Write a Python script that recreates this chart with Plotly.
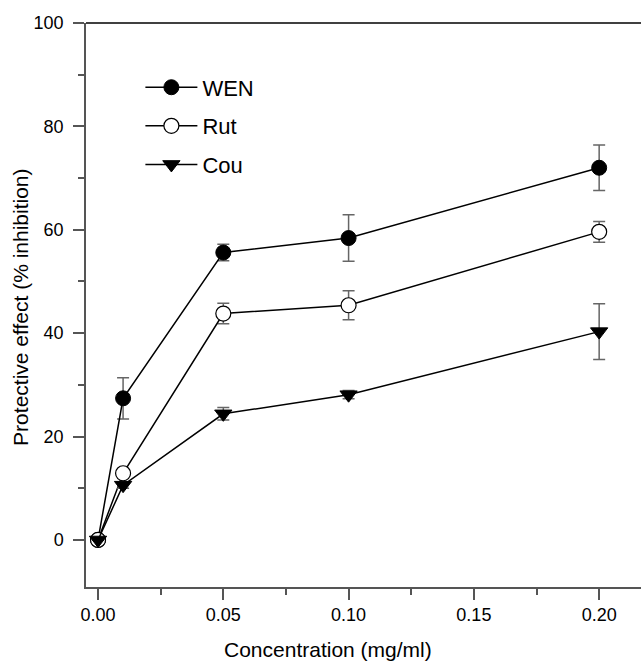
import plotly.graph_objects as go

conc = [0.0, 0.01, 0.05, 0.10, 0.20]
wen = [0.0, 27.4, 55.6, 58.4, 72.0]
wen_err = [0.0, 4.0, 1.6, 4.5, 4.4]
rut = [0.0, 12.9, 43.8, 45.4, 59.6]
rut_err = [0.0, 0.8, 2.0, 2.8, 2.0]
cou = [0.0, 10.6, 24.4, 28.1, 40.3]
cou_err = [0.0, 0.6, 1.2, 0.8, 5.4]

x_ticks = [0.0, 0.05, 0.10, 0.15, 0.20]
x_ticklabels = ["0.00", "0.05", "0.10", "0.15", "0.20"]
y_ticks = [0, 20, 40, 60, 80, 100]

FONT = "Liberation Sans, Arial, Helvetica, sans-serif"
AXC = "#555555"
ERRC = "#666666"

def err(vals):
    return dict(type="data", array=vals, visible=True, color=ERRC, thickness=1.5, width=6)

fig = go.Figure()
fig.add_trace(go.Scatter(
    x=conc, y=wen, name="WEN", mode="lines+markers", legendgroup="a",
    line=dict(color="black", width=1.5),
    marker=dict(symbol="circle", size=15, color="black", line=dict(color="black", width=1)),
    error_y=err(wen_err)))
fig.add_trace(go.Scatter(
    x=conc, y=rut, name="Rut", mode="lines+markers", legendgroup="b",
    line=dict(color="black", width=1.5),
    marker=dict(symbol="circle", size=15, color="white", line=dict(color="black", width=1.2)),
    error_y=err(rut_err)))
fig.add_trace(go.Scatter(
    x=conc, y=cou, name="Cou", mode="lines+markers", legendgroup="c",
    line=dict(color="black", width=1.5),
    marker=dict(symbol="triangle-down", size=15, color="black", line=dict(color="black", width=1)),
    error_y=err(cou_err)))

fig.update_layout(
    width=641, height=662,
    margin=dict(l=86, r=0, t=23, b=75),
    paper_bgcolor="white", plot_bgcolor="white",
    font=dict(family=FONT, size=18, color="black"),
    showlegend=True,
    legend=dict(x=0.098, y=0.923, xanchor="left", yanchor="top",
                font=dict(size=22, family=FONT, color="black"),
                bgcolor="rgba(0,0,0,0)", tracegroupgap=7, itemwidth=52),
    xaxis=dict(range=[-0.0048, 0.2167], tickmode="array", tickvals=x_ticks, ticktext=x_ticklabels,
               showgrid=False, zeroline=False, showline=True, linecolor=AXC, linewidth=1.5,
               ticks="outside", ticklen=11, tickwidth=1.5, tickcolor=AXC,
               minor=dict(dtick=0.025, tick0=0, ticks="outside", ticklen=6, tickwidth=1.5, tickcolor=AXC),
               tickfont=dict(size=18), ticklabelstandoff=0),
    yaxis=dict(range=[-9.1, 100], tickmode="array", tickvals=y_ticks,
               showgrid=False, zeroline=False, showline=True, linecolor=AXC, linewidth=1.5,
               ticks="outside", ticklen=11, tickwidth=1.5, tickcolor=AXC,
               minor=dict(dtick=10, tick0=0, ticks="outside", ticklen=6, tickwidth=1.5, tickcolor=AXC),
               tickfont=dict(size=18), ticklabelstandoff=6),
    shapes=[dict(type="line", xref="paper", yref="paper", x0=0, x1=1, y0=1, y1=1,
                 line=dict(color="black", width=1.5))],
    annotations=[
        dict(text="Concentration (mg/ml)", xref="paper", yref="paper", x=0.436, y=-0.11,
             xanchor="center", yanchor="middle", showarrow=False, font=dict(size=21)),
        dict(text="Protective effect (% inhibition)", xref="paper", yref="paper", x=-0.117, y=0.495,
             xanchor="center", yanchor="middle", textangle=-90, showarrow=False, font=dict(size=21)),
    ],
)

fig.write_html("out.html", config={"displayModeBar": False},
               post_script="document.body.style.margin='0';document.body.style.overflow='hidden';")
